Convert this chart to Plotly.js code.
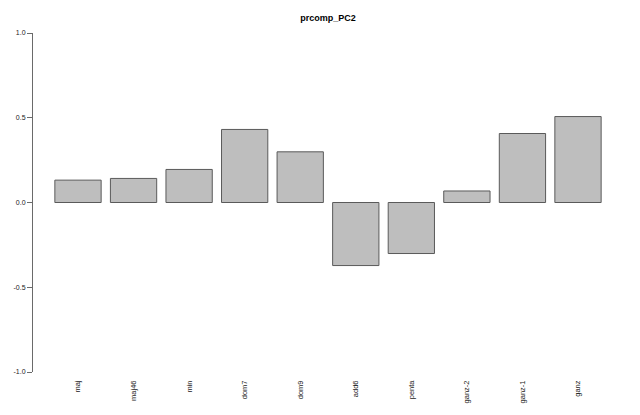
<!DOCTYPE html>
<html>
<head>
<meta charset="utf-8">
<script src="https://cdn.plot.ly/plotly-3.0.1.min.js"></script>
<style>
  html, body { margin: 0; padding: 0; background: #fff; }
  #chart { width: 640px; height: 415px; }
</style>
</head>
<body>
<div id="chart"></div>
<script>
// prcomp PC2 loadings
const categories = ['maj', 'maj46', 'min', 'dom7', 'dom9', 'add6', 'penta', 'ganz-2', 'ganz-1', 'ganz'];
const pc2Values = [0.132, 0.142, 0.195, 0.431, 0.299, -0.372, -0.301, 0.068, 0.407, 0.507];
const yTicks = [-1.0, -0.5, 0.0, 0.5, 1.0];
const yTickLabels = ['-1.0', '-0.5', '0.0', '0.5', '1.0'];

const font = 'Liberation Sans, Arial, sans-serif';

const trace = {
  type: 'bar',
  x: categories,
  y: pc2Values,
  marker: { color: '#bebebe', line: { color: '#5a5a5a', width: 1 } },
  hoverinfo: 'x+y'
};

const layout = {
  width: 640,
  height: 415,
  margin: { l: 33, r: 17, t: 33, b: 43 },
  paper_bgcolor: '#fff',
  plot_bgcolor: '#fff',
  showlegend: false,
  bargap: 1 / 6,
  title: {
    text: '<b>prcomp_PC2</b>',
    font: { family: font, size: 9, color: '#000' },
    x: 0.5, xref: 'paper', xanchor: 'center',
    y: 1 - 18 / 415, yref: 'container', yanchor: 'middle'
  },
  xaxis: {
    type: 'category',
    range: [-0.81, 9.81],
    showline: false,
    showgrid: false,
    zeroline: false,
    ticks: '',
    tickangle: -90,
    ticklabelstandoff: 6,
    tickfont: { family: font, size: 7.5, color: '#222' },
    fixedrange: true
  },
  yaxis: {
    range: [-1, 1],
    tickvals: yTicks,
    ticktext: yTickLabels,
    showline: true,
    linecolor: '#6a6a6a',
    linewidth: 1,
    ticks: 'outside',
    ticklen: 5,
    tickcolor: '#6a6a6a',
    showgrid: false,
    zeroline: false,
    tickfont: { family: font, size: 7, color: '#222' },
    fixedrange: true
  }
};

Plotly.newPlot('chart', [trace], layout, { displayModeBar: false, staticPlot: true });
</script>
</body>
</html>
